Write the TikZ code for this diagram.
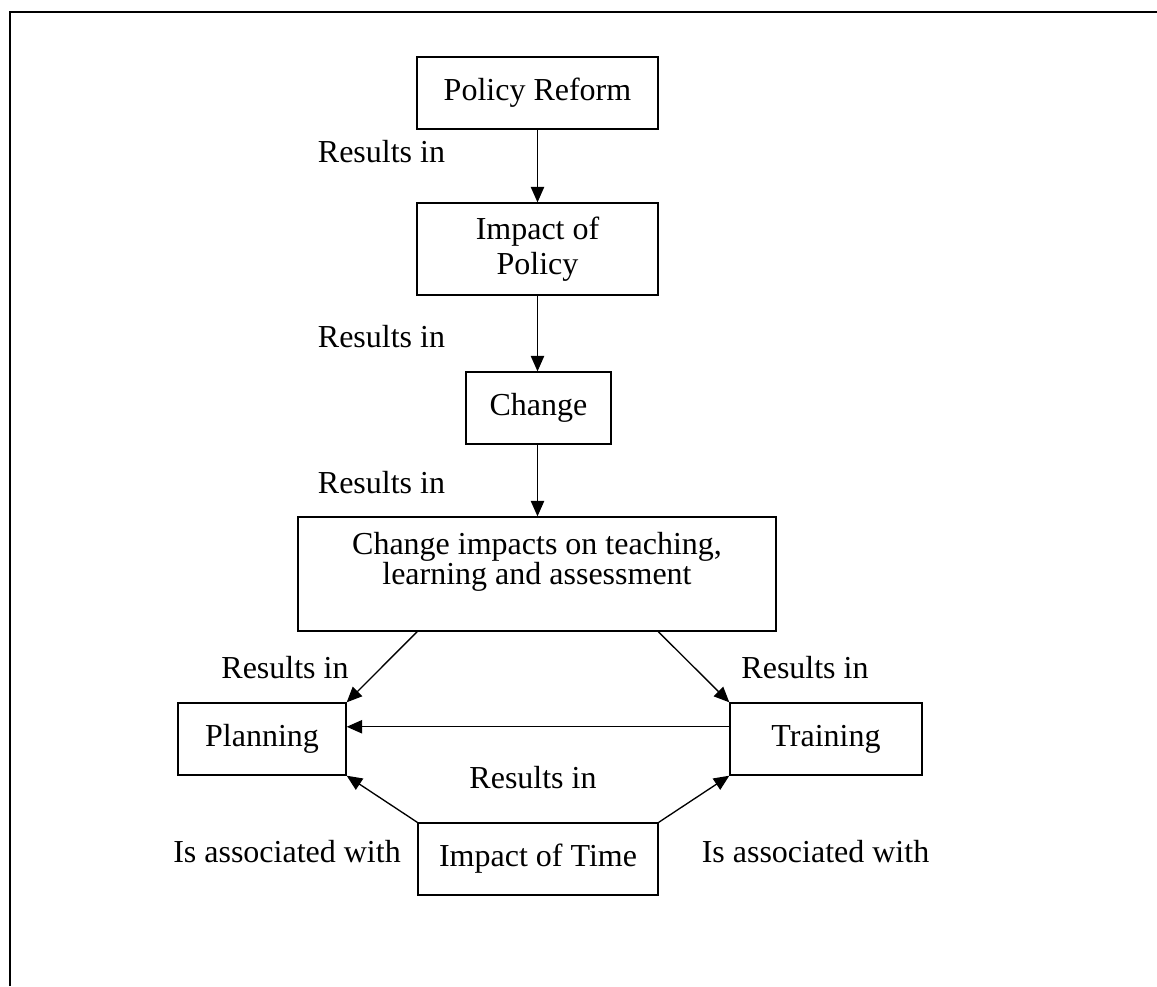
\documentclass[tikz,border=0pt]{standalone}
\usepackage{fontspec}
\setmainfont{Liberation Serif}
\usetikzlibrary{arrows.meta,calc}
\begin{document}
\begin{tikzpicture}[x=0.375pt,y=-0.375pt,
  box/.style={draw, line width=0.5pt, inner sep=0pt, align=center, font=\fontsize{12}{13.2}\selectfont},
  lbl/.style={inner sep=0pt, font=\fontsize{12}{13.2}\selectfont},
  arr/.style={line width=0.5pt, -{Triangle[length=5.8pt,width=5pt]}},
  frame/.style={line width=0.8pt}]
\useasboundingbox (0,0) rectangle (1157,986);
\draw[frame] (10,986) -- (10,12) -- (1157,12);

\node[box, minimum width={241*0.375pt}, minimum height={72*0.375pt}] (pr) at (537.5,93) {Policy Reform};
\node[box, minimum width={241*0.375pt}, minimum height={92*0.375pt}] (ip) at (537.5,249) {Impact of\\Policy};
\node[box, minimum width={145*0.375pt}, minimum height={72*0.375pt}] (ch) at (538.5,408) {Change};
\node[box, minimum width={478*0.375pt}, minimum height={114*0.375pt}] (big) at (537,574) {};
\node[lbl, align=center, font=\fontsize{12}{11.5}\selectfont] (bigtext) at (537,562) {Change impacts on teaching,\\learning and assessment};
\node[box, minimum width={168*0.375pt}, minimum height={72*0.375pt}] (plan) at (262,739) {Planning};
\node[box, minimum width={192*0.375pt}, minimum height={72*0.375pt}] (train) at (826,739) {Training};
\node[box, minimum width={240*0.375pt}, minimum height={72*0.375pt}] (time) at (538,859) {Impact of Time};

\node[lbl] (l1) at (381.5,152) {Results in};
\node[lbl] (l2) at (381.5,337) {Results in};
\node[lbl] (l3) at (381.5,483) {Results in};
\node[lbl] (l4) at (285,668) {Results in};
\node[lbl] (l5) at (805,668) {Results in};
\node[lbl] (l6) at (533,778) {Results in};
\node[lbl] (l7) at (287,852) {Is associated with};
\node[lbl] (l8) at (815.5,852) {Is associated with};

\coordinate (bl) at ($(big.south west)!0.25!(big.south east)$);
\coordinate (br) at ($(big.south west)!0.753!(big.south east)$);
\coordinate (tw) at ($(train.north west)!0.333!(train.south west)$);

\draw[arr] (pr.south) -- (ip.north);
\draw[arr] (ip.south) -- (ip.south |- ch.north);
\draw[arr] (ip.south |- ch.south) -- (ip.south |- big.north);
\draw[arr] (bl) -- (plan.north east);
\draw[arr] (br) -- (train.north west);
\draw[arr] (tw) -- (plan.east |- tw);
\draw[arr] (time.north west) -- (plan.south east);
\draw[arr] (time.north east) -- (train.south west);
\end{tikzpicture}
\end{document}
